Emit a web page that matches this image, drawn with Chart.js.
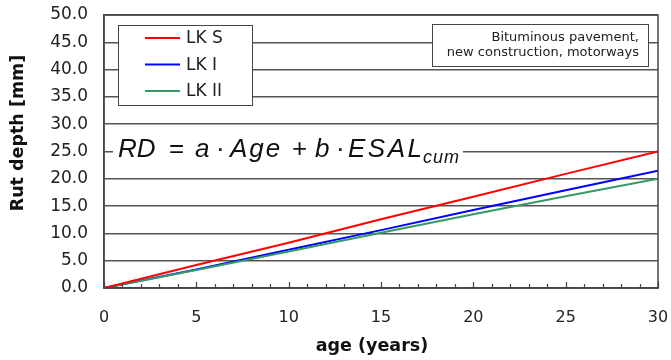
<!DOCTYPE html>
<html>
<head>
<meta charset="utf-8">
<script src="https://cdn.jsdelivr.net/npm/chart.js@4"></script>
<style>
  html, body { margin: 0; padding: 0; background: #fff; }
  #wrap { width: 671px; height: 360px; }
</style>
</head>
<body>
<div id="wrap"><canvas id="rutChart" width="671" height="360"></canvas></div>
<script>
// values
const ageYears = [0, 5, 10, 15, 20, 25, 30];
const rutLKS = [0, 4.2, 8.3, 12.6, 16.7, 20.9, 25.0];
const rutLKI = [0, 3.4, 7.0, 10.6, 14.3, 17.9, 21.5];
const rutLKII = [0, 3.3, 6.7, 10.1, 13.5, 16.8, 20.0];
const seriesNames = ['LK S', 'LK I', 'LK II'];
const seriesColors = ['#ff0000', '#0000ff', '#339966'];
const noteLines = ['Bituminous pavement,', 'new construction, motorways'];

const toPoints = vals => vals.map((v, i) => ({ x: ageYears[i], y: v }));

// draws frame, inside ticks, legend, note box, formula, axis titles
const decorations = {
    id: 'decorations',
    afterDraw(chart) {
        const ctx = chart.ctx;
        const area = chart.chartArea;
        const xs = chart.scales.x;
        ctx.save();

        // frame
        ctx.strokeStyle = '#444';
        ctx.lineWidth = 1.5;
        ctx.strokeRect(area.left, area.top, area.right - area.left, area.bottom - area.top);

        // minor / major ticks pointing up into the plot
        ctx.lineWidth = 1.2;
        for (let a = 0; a <= 30; a++) {
            const px = Math.round(xs.getPixelForValue(a)) + 0.5;
            const len = a % 5 === 0 ? 6 : 4;
            ctx.beginPath();
            ctx.moveTo(px, area.bottom);
            ctx.lineTo(px, area.bottom - len);
            ctx.stroke();
        }

        // legend box
        ctx.fillStyle = '#fff';
        ctx.fillRect(118, 25, 134, 80);
        ctx.strokeStyle = '#444';
        ctx.lineWidth = 1;
        ctx.strokeRect(118.5, 25.5, 134, 80);
        ctx.font = '17px "DejaVu Sans"';
        ctx.textBaseline = 'middle';
        ctx.textAlign = 'left';
        chart.data.datasets.forEach((ds, i) => {
            const ly = 38 + i * 26.5;
            ctx.strokeStyle = ds.borderColor;
            ctx.lineWidth = 2;
            ctx.beginPath();
            ctx.moveTo(145, ly);
            ctx.lineTo(180, ly);
            ctx.stroke();
            ctx.fillStyle = '#222';
            ctx.fillText(ds.label, 186, ly + 1);
        });

        // note box, top right
        ctx.fillStyle = '#fff';
        ctx.fillRect(432, 24, 217, 42);
        ctx.strokeStyle = '#444';
        ctx.lineWidth = 1;
        ctx.strokeRect(432.5, 24.5, 216, 42);
        ctx.fillStyle = '#222';
        ctx.font = '13px "DejaVu Sans"';
        ctx.textAlign = 'right';
        ctx.fillText(noteLines[0], 639, 38);
        ctx.fillText(noteLines[1], 639, 53);

        // formula on a white patch
        ctx.fillStyle = '#fff';
        ctx.fillRect(113, 128, 350, 44);
        ctx.fillStyle = '#111';
        ctx.textAlign = 'left';
        ctx.textBaseline = 'alphabetic';
        const italic = 'italic 26px "Liberation Sans"';
        const upright = '26px "Liberation Sans"';
        const parts = [
            ['RD', 118, italic, '0px'], ['=', 169, upright, '2px'], ['a', 195, italic, '0px'],
            ['\u00b7', 216, upright, '0px'], ['Age', 230, italic, '2px'], ['+', 292, upright, '0px'],
            ['b', 315, italic, '0px'], ['\u00b7', 336, upright, '0px'], ['ESAL', 348, italic, '2.5px']
        ];
        parts.forEach(p => {
            ctx.font = p[2];
            ctx.letterSpacing = p[3];
            ctx.fillText(p[0], p[1], 157);
        });
        ctx.font = 'italic 18px "Liberation Sans"';
        ctx.letterSpacing = '1px';
        ctx.fillText('cum', 423, 163);
        ctx.letterSpacing = '0px';

        // axis titles
        ctx.fillStyle = '#111';
        ctx.font = 'bold 17.5px "DejaVu Sans"';
        ctx.textAlign = 'center';
        ctx.textBaseline = 'middle';
        ctx.fillText('age (years)', 372, 346);
        ctx.translate(18, 133);
        ctx.rotate(-Math.PI / 2);
        ctx.fillText('Rut depth [mm]', 0, 0);

        ctx.restore();
    }
};

const ctx = document.getElementById('rutChart').getContext('2d');
new Chart(ctx, {
    type: 'line',
    data: {
        datasets: [
            { label: seriesNames[0], data: toPoints(rutLKS), borderColor: seriesColors[0], order: 0 },
            { label: seriesNames[1], data: toPoints(rutLKI), borderColor: seriesColors[1], order: 2 },
            { label: seriesNames[2], data: toPoints(rutLKII), borderColor: seriesColors[2], order: 1 }
        ]
    },
    options: {
        responsive: false,
        animation: false,
        layout: { padding: { top: 15, right: 13, left: 0, bottom: 0 } },
        elements: {
            point: { radius: 0 },
            line: { borderWidth: 2, fill: false, tension: 0 }
        },
        plugins: {
            legend: { display: false },
            tooltip: { enabled: false }
        },
        scales: {
            x: {
                type: 'linear',
                min: 0,
                max: 30,
                grid: { display: false, drawTicks: false },
                border: { display: true, color: '#444', width: 1.5 },
                ticks: {
                    stepSize: 5,
                    padding: 20,
                    color: '#222',
                    font: { family: 'DejaVu Sans', size: 16 }
                },
                afterFit(scale) {
                    scale.height = 72;
                    scale.paddingLeft = 0;
                    scale.paddingRight = 0;
                }
            },
            y: {
                min: 0,
                max: 50,
                grid: { color: '#555', lineWidth: 1.5, drawTicks: false },
                border: { display: true, color: '#444', width: 1.5 },
                ticks: {
                    stepSize: 5,
                    padding: 16,
                    color: '#222',
                    font: { family: 'DejaVu Sans', size: 17 },
                    callback: v => v.toFixed(1)
                },
                afterFit(scale) {
                    scale.width = 104;
                    scale.paddingTop = 0;
                    scale.paddingBottom = 0;
                }
            }
        }
    },
    plugins: [decorations]
});
</script>
</body>
</html>
